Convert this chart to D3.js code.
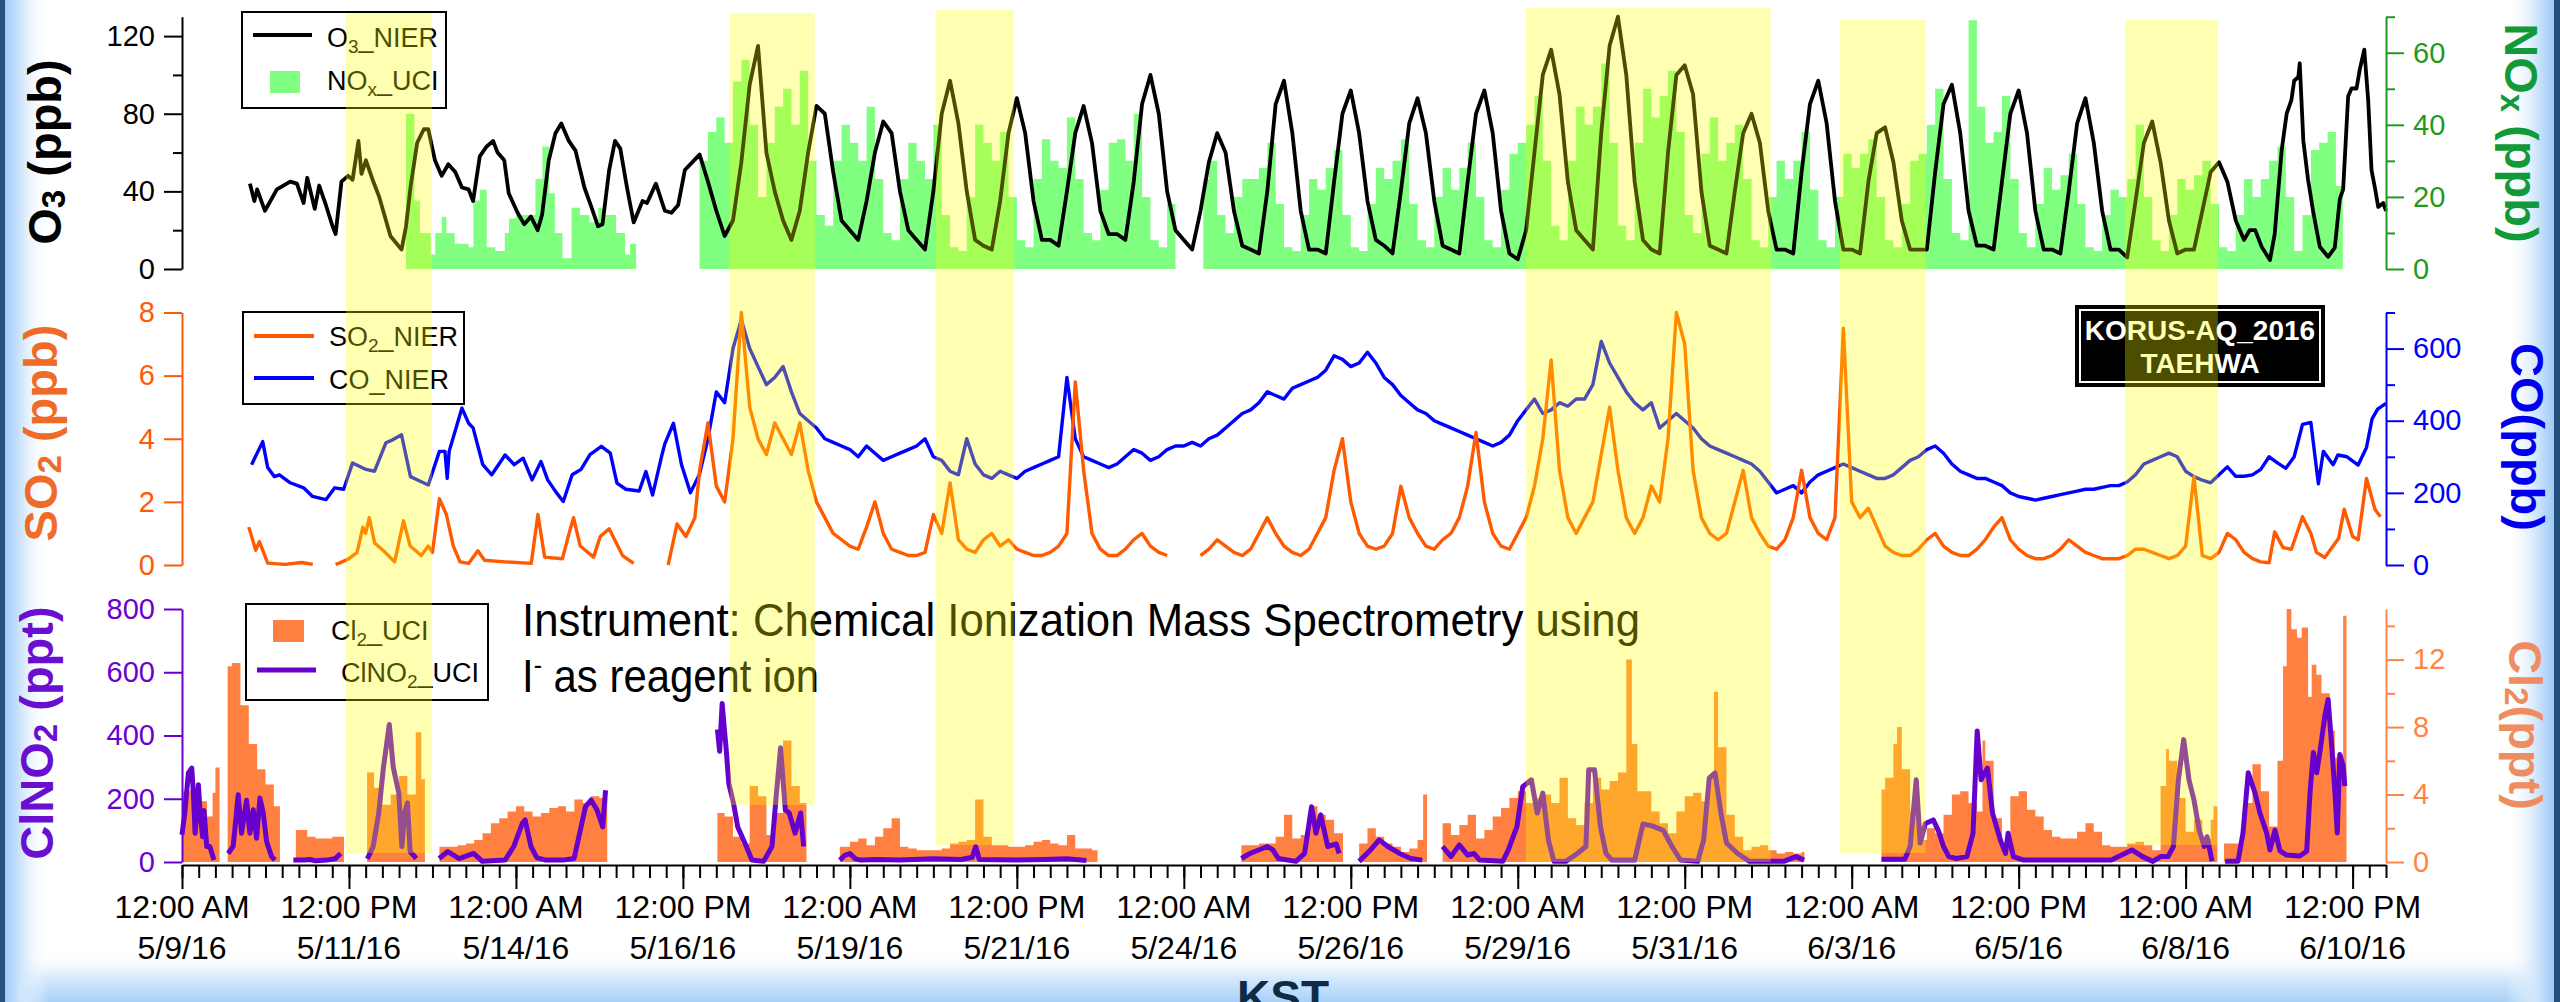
<!DOCTYPE html>
<html>
<head>
<meta charset="utf-8">
<script src="https://cdn.jsdelivr.net/npm/d3@7"></script>
<style>
  html, body { margin: 0; padding: 0; background: #fff; overflow: hidden; }
  svg { display: block; }
  text { font-family: "Liberation Sans", Arial, sans-serif; }
</style>
</head>
<body>
<svg id="chart" width="2560" height="1002"></svg>
<script>
// ---------------------------------------------------------------
// KORUS-AQ 2016, Taehwa site: hourly trace gases, 5/9 - 6/11 2016 (KST)
// Every series is a list of [hours since 5/9/16 00:00, value];
// a null value marks a gap in the record.
// ---------------------------------------------------------------
const START = new Date(2016, 4, 9, 0, 0);
const TOTAL_HOURS = 792;

// O3 (ppb), NIER
const o3 = [
  [24.4,44],[26,35],[27,41],[29.8,30],[34.1,41],[38.9,45],[41.3,44],[43.7,34],[45,47],[47.7,31],
  [49.3,43],[51.7,33],[54.1,22],[55.2,18],[57.3,45],[59.7,48],[61.3,46],[63.4,66],[64.5,49],[66.1,56],
  [68.5,46],[70.9,37],[73.3,25],[74.9,17],[78.9,10],[80.5,22],[82.1,42],[84.5,65],[86.9,72],[88.5,72],
  [90.9,56],[93.3,48],[95.7,54],[98.2,50],[100.6,42],[103,41],[104.6,35],[107,58],[109.4,63],[111.8,66],
  [113.4,60],[115.8,56],[117.4,39],[120.6,29],[123,23],[125.4,27],[127.8,20],[129.4,28],[131.8,56],[134.2,70],
  [136.3,75],[139,66],[141.4,61],[144.6,42],[147.1,32],[149.5,22],[151.1,23],[153.5,51],[155.6,66],[157.5,62],
  [159.9,42],[162.3,24],[165.5,35],[167.1,34],[170.3,44],[173.5,30],[175.9,29],[178.3,33],[180.7,51],[184.7,57],
  [186,59],[189,45],
  [192,30],[195,17],[198,25],[201,55],[204,95],[207,115],[210,60],[213,40],
  [216,25],[219,15],[222,30],[225,60],[228,84],[231,80],[234,50],[237,25],
  [240,20],[243,15],[246,35],[249,60],[252,76],[255,70],[258,40],[261,20],
  [264,15],[267,10],[270,40],[273,80],[276,97],[279,75],[282,40],[285,15],
  [288,12],[291,10],[294,35],[297,70],[300,88],[303,70],[306,35],[309,15],
  [312,15],[315,12],[318,40],[321,70],[324,84],[327,65],[330,30],[333,18],
  [336,18],[339,15],[342,45],[345,85],[348,100],[351,80],[354,40],[357,20],
  [360,15],[363,10],[366,30],[369,55],[372,70],[375,60],[378,30],[381,12],
  [384,10],[387,8],[390,40],[393,85],[396,97],[399,70],[402,30],[405,10],
  [408,10],[411,8],[414,45],[417,80],[420,92],[423,70],[426,35],[429,15],
  [432,12],[435,8],[438,40],[441,75],[444,88],[447,70],[450,35],[453,12],
  [456,10],[459,8],[462,45],[465,80],[468,92],[471,70],[474,30],[477,8],
  [480,5],[483,20],[486,60],[489,100],[492,113],[495,90],[498,45],[501,20],
  [504,15],[507,10],[510,70],[513,115],[516,130],[519,100],[522,45],[525,15],
  [528,10],[531,8],[534,60],[537,100],[540,105],[543,90],[546,40],[549,12],
  [552,10],[555,8],[558,40],[561,70],[564,80],[567,65],[570,30],[573,10],
  [576,10],[579,8],[582,50],[585,85],[588,97],[591,75],[594,35],[597,10],
  [600,10],[603,8],[606,45],[609,70],[612,73],[615,55],[618,25],[621,10],
  [624,10],[627,10],[630,50],[633,85],[636,95],[639,70],[642,30],[645,12],
  [648,12],[651,10],[654,45],[657,80],[660,92],[663,70],[666,30],[669,10],
  [672,10],[675,8],[678,40],[681,75],[684,88],[687,65],[690,30],[693,10],
  [696,10],[699,6],[702,35],[705,65],[708,76],[711,55],[714,25],[717,8],
  [720,10],[723,10],[726,30],[729,50],[732,55],[735,45],[738,25],[741,15],
  [743,20],[745,20],[747.3,11.5],[750.3,4.6],[752,18],[754.5,61],[756.3,80],[758,87],[759,97],[760.5,99],
  [761,106],[762.3,66],[764,46],[765.9,29],[768.2,11.5],[771.2,6.3],[773.6,11],[775.4,36],[776.6,41],[778.4,89],
  [779.6,93],[781.4,93],[782.6,103],[784.2,113],[785.6,87],[786.8,51],[788,42],[789.2,32],[791,34],[792,30]
];

// NOx (ppb), UCI
const nox = [
  [80.5,43],[83.5,19],[85.5,10],[89.4,4],[91,10],[93.4,14.5],[95,10],[98,7],[103,6],[104.7,19],
  [107,22],[109.5,6],[112.6,5],[116,10],[117.5,14],[120,15],[124,15],[127,25],[129.5,34],[131.9,21],
  [134,10],[136.7,3],[140,17],[143,15],[146.4,13],[149.6,17],[152,15],[156,10],[159.2,4],[161,7],[163.2,null],
  [186,30],[189,38],
  [192,42],[195,35],[198,52],[201,58],[204,40],[207,20],[210,35],[213,45],
  [216,50],[219,40],[222,55],[225,30],[228,15],[231,12],[234,30],[237,40],
  [240,35],[243,30],[246,45],[249,25],[252,10],[255,8],[258,25],[261,35],
  [264,30],[267,25],[270,40],[273,15],[276,6],[279,5],[282,20],[285,40],
  [288,35],[291,30],[294,38],[297,20],[300,8],[303,6],[306,25],[309,36],
  [312,30],[315,28],[318,42],[321,25],[324,10],[327,8],[330,22],[333,35],
  [336,36],[339,30],[342,43],[345,20],[348,8],[351,6],[354,18],[357,null],
  [367,25],[369,30],[372,15],[375,10],[378,20],[381,25],
  [384,25],[387,28],[390,35],[393,18],[396,6],[399,5],[402,15],[405,25],
  [408,22],[411,28],[414,33],[417,15],[420,6],[423,5],[426,18],[429,28],
  [432,25],[435,30],[438,36],[441,18],[444,8],[447,6],[450,20],[453,28],
  [456,22],[459,28],[462,35],[465,20],[468,8],[471,6],[474,22],[477,32],
  [480,35],[483,40],[486,48],[489,30],[492,12],[495,8],[498,30],[501,45],
  [504,40],[507,45],[510,57],[513,35],[516,12],[519,8],[522,35],[525,50],
  [528,42],[531,48],[534,55],[537,38],[540,15],[543,10],[546,32],[549,42],
  [552,30],[555,35],[558,40],[561,25],[564,8],[567,6],[570,20],[573,30],
  [576,25],[579,30],[582,38],[585,22],[588,8],[591,6],[594,20],[597,32],
  [600,28],[603,32],[606,36],[609,20],[612,8],[615,6],[618,18],[621,30],
  [624,32],[627,40],[630,50],[633,25],[636,10],[639,8],[642,69],[645,45],
  [648,35],[651,38],[654,48],[657,25],[660,10],[663,6],[666,18],[669,28],
  [672,22],[675,26],[678,32],[681,18],[684,6],[687,5],[690,15],[693,22],
  [696,20],[699,25],[702,40],[705,20],[708,8],[711,5],[714,15],[717,25],
  [720,22],[723,26],[726,30],[729,18],[732,6],[735,5],[738,15],[741,25],
  [744,20],[747,25],[750,30],[753,34],[756,20],[759,5],[762,15],[765,33],
  [768,35],[771,38],[774,23],[776.5,null]
];

// SO2 (ppb), NIER
const so2 = [
  [24,1.2],[26.5,0.47],[27.8,0.74],[30.8,0.06],[37,0.02],[43,0.08],[47,0.02],[47.5,null],
  [55.2,0.02],[56.5,0.06],[60,0.2],[62.9,0.4],[65,1.2],[66,1.0],[67.3,1.5],[69.2,0.7],[72.4,0.45],[76.4,0.1],
  [79.6,1.4],[82,0.6],[86,0.3],[88.5,0.6],[90,0.4],[92.5,2.1],[95,1.6],[97.5,0.6],[99.9,0.1],[103,0.05],
  [106.3,0.45],[108.7,0.15],[115.9,0.1],[125.5,0.05],[127.9,1.6],[130.3,0.25],[136.7,0.2],[139.1,1.0],[140.7,1.5],[143.1,0.6],
  [147.9,0.25],[150.3,0.9],[153.5,1.15],[158.3,0.3],[162.3,0.05],[163.5,null],
  [174.7,0.0],[177.9,1.3],[181.1,0.9],[184.3,1.5],[186,3.0],[189,4.5],
  [192,2.5],[195,2.0],[198,4.0],[201,8.0],[204,5.0],[207,4.0],[210,3.5],[213,4.5],
  [216,4.0],[219,3.5],[222,4.5],[225,3.0],[228,2.0],[231,1.5],[234,1.0],[237,0.8],
  [240,0.6],[243,0.5],[246,1.2],[249,2.0],[252,1.0],[255,0.5],[258,0.4],[261,0.3],
  [264,0.3],[267,0.4],[270,1.6],[273,1.0],[276,2.6],[279,0.8],[282,0.5],[285,0.4],
  [288,0.8],[291,1.0],[294,0.6],[297,0.8],[300,0.5],[303,0.4],[306,0.3],[309,0.3],
  [312,0.4],[315,0.6],[318,1.0],[321,5.8],[324,3.0],[327,1.0],[330,0.5],[333,0.3],
  [336,0.3],[339,0.5],[342,0.8],[345,1.0],[348,0.6],[351,0.4],[354,0.3],[357,null],
  [366,0.3],[369,0.5],[372,0.8],[375,0.6],[378,0.4],[381,0.3],
  [384,0.5],[387,1.0],[390,1.5],[393,1.0],[396,0.6],[399,0.4],[402,0.3],[405,0.5],
  [408,1.0],[411,1.5],[414,3.0],[417,4.0],[420,2.0],[423,1.0],[426,0.6],[429,0.5],
  [432,0.6],[435,1.0],[438,2.5],[441,1.5],[444,1.0],[447,0.6],[450,0.5],[453,0.8],
  [456,1.0],[459,1.5],[462,2.5],[465,4.2],[468,2.0],[471,1.0],[474,0.6],[477,0.5],
  [480,1.0],[483,1.5],[486,2.5],[489,4.0],[492,6.5],[495,3.0],[498,1.5],[501,1.0],
  [504,1.5],[507,2.0],[510,3.5],[513,5.0],[516,3.0],[519,1.5],[522,1.0],[525,1.5],
  [528,2.5],[531,2.0],[534,4.0],[537,8.0],[540,7.0],[543,3.0],[546,1.5],[549,1.0],
  [552,0.8],[555,1.0],[558,2.0],[561,3.0],[564,1.5],[567,1.0],[570,0.6],[573,0.5],
  [576,0.8],[579,1.5],[582,3.0],[585,1.5],[588,1.0],[591,0.8],[594,1.5],[597,7.5],
  [600,2.0],[603,1.5],[606,1.8],[609,1.2],[612,0.6],[615,0.4],[618,0.3],[621,0.3],
  [624,0.5],[627,0.8],[630,1.0],[633,0.6],[636,0.4],[639,0.3],[642,0.3],[645,0.5],
  [648,0.8],[651,1.2],[654,1.5],[657,0.8],[660,0.5],[663,0.3],[666,0.2],[669,0.2],
  [672,0.3],[675,0.5],[678,0.8],[681,0.6],[684,0.4],[687,0.3],[690,0.2],[693,0.2],
  [696,0.2],[699,0.3],[702,0.5],[705,0.5],[708,0.4],[711,0.3],[714,0.2],[717,0.3],
  [720,0.6],[723,2.8],[726,0.3],[729,0.2],[732,0.4],[735,1.0],[738,0.8],[741,0.4],
  [744,0.2],[747,0.1],[750,0.07],[752,1.05],[755,0.55],[758,0.5],[762,1.53],[765,1.0],
  [767,0.4],[770,0.24],[775,0.85],[777,1.77],[780,0.9],[782,0.8],[785,2.74],[788,1.77],[790,1.53]
];

// CO (ppb), NIER
const co = [
  [25,278],[29,342],[30.8,270],[33.2,245],[35,250],[38.9,228],[43.7,214],[46.9,190],[51.7,181],[54.9,214],
  [58.1,210],[61.3,283],[66.1,265],[69.2,260],[73.3,339],[75.7,347],[78.9,361],[82.1,245],[86,231],[88.5,222],
  [92.5,315],[94.5,315],[95.3,240],[96,315],[100.6,435],[103,393],[104.6,380],[108.1,278],[111.3,250],[116.1,305],
  [119.4,278],[122.6,296],[125.8,236],[129,287],[131.4,236],[134.6,200],[137,176],[140.2,250],[143.4,265],[146.6,306],
  [150.7,329],[153.9,310],[156.3,227],[159.5,210],[164.3,205],[166.7,259],[169.1,194],[172.3,300],[173.5,336],[176.6,393],
  [179.5,278],[182.7,200],[185.9,250],[189,350],
  [192,480],[195,450],[198,600],[201,680],[204,600],[207,550],[210,500],[213,520],
  [216,550],[219,480],[222,420],[225,400],[228,380],[231,350],[234,340],[237,330],
  [240,320],[243,300],[246,330],[249,310],[252,290],[255,300],[258,310],[261,320],
  [264,330],[267,350],[270,300],[273,290],[276,260],[279,250],[282,350],[285,280],
  [288,250],[291,240],[294,260],[297,250],[300,240],[303,260],[306,270],[309,280],
  [312,290],[315,300],[318,520],[321,350],[324,300],[327,290],[330,280],[333,270],
  [336,280],[339,300],[342,320],[345,310],[348,290],[351,300],[354,320],[357,330],
  [360,330],[363,340],[366,330],[369,350],[372,360],[375,380],[378,400],[381,420],
  [384,430],[387,450],[390,480],[393,470],[396,460],[399,490],[402,500],[405,510],
  [408,520],[411,540],[414,580],[417,570],[420,550],[423,560],[426,590],[429,560],
  [432,520],[435,500],[438,470],[441,450],[444,430],[447,420],[450,400],[453,390],
  [456,380],[459,370],[462,360],[465,350],[468,340],[471,330],[474,340],[477,360],
  [480,400],[483,430],[486,460],[489,420],[492,430],[495,450],[498,440],[501,460],
  [504,460],[507,500],[510,620],[513,560],[516,520],[519,480],[522,450],[525,430],
  [528,450],[531,380],[534,400],[537,420],[540,400],[543,380],[546,350],[549,330],
  [552,320],[555,310],[558,300],[561,290],[564,280],[567,260],[570,230],[573,200],
  [576,210],[579,220],[582,200],[585,230],[588,250],[591,260],[594,270],[597,280],
  [600,270],[603,260],[606,250],[609,240],[612,240],[615,250],[618,270],[621,290],
  [624,300],[627,320],[630,330],[633,310],[636,280],[639,260],[642,250],[645,240],
  [648,240],[651,230],[654,220],[657,200],[660,190],[663,185],[666,180],[669,185],
  [672,190],[675,195],[678,200],[681,205],[684,210],[687,210],[690,215],[693,220],
  [696,220],[699,230],[702,250],[705,280],[708,290],[711,300],[714,310],[717,300],
  [720,260],[723,245],[726,235],[729,228],[732,250],[735,272],[738,246],[741,246],
  [744,250],[747,265],[750,300],[753,283],[756,268],[759,300],[762,390],[765,395],
  [767.7,225],[769.5,315],[773,278],[774.7,305],[778,300],[782,277],[785,326],[787,405],[789,432],[792,448]
];

// Cl2 (ppt), UCI CIMS
const cl2 = [
  [0,4.2],[3,4.3],[6,3.6],[9,2.7],[11,4.1],[12,5.6],[13.5,null],
  [16.4,11.6],[18,11.8],[21,9.3],[24,7.0],[27,5.5],[30,4.6],[33,3.3],[35.2,null],
  [40.9,1.9],[42,1.9],[45,1.5],[48,1.4],[51,1.4],[54,1.5],[57,1.5],[58.2,null],
  [66.5,5.3],[69,4.4],[72,3.4],[75,4.0],[78,5.1],[81,4.0],[84,7.7],[86,4.9],[87.3,null],
  [92.5,0.9],[96,0.9],[99,1.0],[102,1.1],[105,1.3],[108,1.7],[111,2.3],[114,2.6],[117,3.0],[120,3.3],
  [123,3.0],[126,2.7],[129,2.9],[132,3.2],[135,3.3],[138,3.0],[141,3.7],[144,3.5],[147,3.9],[150,3.8],[152.8,null],
  [192.4,2.9],[195,2.7],[198,1.5],[201,1.1],[204,4.5],[207,3.9],[210,1.6],[213,2.9],[216,7.2],[219,4.5],[222,3.5],[224.4,null],
  [236.4,0.9],[240,1.2],[243,1.4],[246,1.0],[249,1.5],[252,2.0],[255,2.6],[258,0.9],[261,0.8],[264,0.7],
  [267,0.7],[270,0.7],[273,0.8],[276,1.1],[279,1.2],[282,1.3],[285,3.7],[288,1.5],[291,1.0],[294,1.0],
  [297,0.9],[300,0.9],[303,1.0],[306,1.2],[309,1.3],[312,1.1],[315,1.0],[318,1.6],[321,0.8],[324,0.8],[327,0.7],[329,null],
  [380.7,1.0],[384,1.0],[387,1.1],[390,1.1],[393,1.5],[396,2.8],[399,1.4],[402,1.6],[405,3.3],[408,2.8],[411,2.5],[414,1.7],[417.2,null],
  [423,1.1],[426,2.0],[429,1.5],[432,1.1],[435,0.9],[438,0.6],[441,0.8],[444,1.3],[446,4.0],[447.4,null],
  [453,2.3],[456,1.6],[459,2.2],[462,2.8],[465,1.4],[468,1.9],[471,2.7],[474,3.2],[477,3.8],[480,4.2],
  [483,3.5],[486,3.8],[489,4.0],[492,3.5],[495,5.0],[498,2.6],[501,2.2],[504,3.5],[507,5.0],[510,4.3],
  [513,4.8],[516,5.3],[519,12.0],[521,7.0],[523,4.2],[528,3.0],[531,2.3],[534,1.7],[537,3.0],[540,3.9],
  [543,4.1],[546,3.6],[549,5.0],[550.5,10.1],[552,6.8],[555,2.8],[558,1.5],[561,0.7],[564,0.9],[567,1.0],
  [570,0.7],[573,0.5],[576,0.6],[579,0.5],[582,0.6],[583,null],
  [610.7,4.3],[612,5.0],[615,7.0],[616.3,8.0],[618,5.5],[621,3.0],[624,1.3],[627,2.0],[630,1.7],[633,2.8],
  [636,4.0],[639,4.2],[642,3.5],[645,3.0],[647,7.2],[648,6.0],[651,2.6],[654,1.0],[657,3.9],[660,4.2],
  [663,3.1],[666,2.7],[669,1.9],[672,1.5],[675,1.4],[678,1.4],[681,1.8],[684,2.3],[687,1.8],[690,1.0],
  [693,0.9],[696,0.9],[699,1.1],[702,1.2],[705,1.0],[708,0.7],[711,4.5],[713,6.7],[714,6.0],[717,3.8],
  [720,1.8],[723,2.5],[726,1.4],[729,2.5],[730,3.3],[731.4,null],
  [733.8,1.1],[738,1.1],[741,3.5],[744,5.8],[747,4.2],[750,2.1],[753,6.0],[755,11.6],[756.3,15.0],[758,13.8],
  [760,13.3],[761.7,13.9],[764,9.8],[765.3,11.7],[767,11.1],[768.8,10.0],[771.8,7.8],[773.6,6.2],[775.4,6.0],[776.6,14.6],[777.8,null]
];

// ClNO2 (ppt), UCI CIMS
const clno2 = [
  [0,86],[1,155],[2.3,282],[3.5,297],[4.1,218],[4.7,91],[5.9,244],[6.5,155],[7.4,80],[7.9,163],[8.9,49],[10,49],[11.5,6],[12,null],
  [16.6,27],[18.4,50],[20.2,213],[21.4,91],[23.2,195],[24.4,91],[25.6,165],[26.8,75],[28,202],[29.2,155],[30.4,65],[32.2,17],[33.4,6],[34,null],
  [40,6],[44,6],[46,8],[48,4],[52,6],[55,10],[57,27],[58,null],
  [66.6,10],[68.7,49],[70.7,155],[72.4,300],[74.5,435],[75.9,300],[77.9,218],[79,49],[80,155],[81,187],[82,33],[84.2,11],[86,null],
  [92.4,11],[95.5,33],[99.6,11],[104.8,27],[107.9,2],[116.1,6],[119.2,49],[122.3,122],[123.3,133],[125.4,49],
  [127.5,14],[130.6,6],[136.8,6],[140.9,11],[142.9,91],[145,175],[147,196],[149.1,165],[151.2,111],[152.2,227],[153,null],
  [192.4,419],[193.2,350],[194.1,501],[194.9,419],[195.5,362],[196.5,248],[198.2,185],[199.7,111],[200.7,91],[202.8,49],
  [204.8,6],[209,2],[212,49],[213.5,206],[215.1,361],[216.8,165],[218.2,155],[220.3,91],[222.3,155],[223.4,49],[224,null],
  [236.4,6],[238,20],[240,27],[242,10],[244,6],[250,8],[258,6],[270,10],[280,8],[284,15],[285.2,49],[286.5,8],[300,6],[310,8],[318,10],[325,5],[329,null],
  [380.7,11],[383.8,27],[390,49],[392,38],[394,11],[400.3,2],[403.4,27],[405.9,175],[407.5,91],[409.2,149],[411.7,49],[414.8,57],[415.8,27],[417,null],
  [423,2],[427.1,38],[430.2,70],[433.3,49],[437.5,27],[441.6,11],[445.7,6],[447,null],
  [453,49],[456,17],[459,54],[462,22],[464.3,27],[466.3,6],[474.6,2],[476.6,38],[479.7,112],[481.8,238],
  [484.9,260],[487,155],[489,218],[491,70],[493,2],[497.3,2],[501.4,27],[504.5,49],[505.5,292],[507.6,292],
  [509.7,112],[511.7,27],[513.8,6],[522,6],[525,120],[528,115],[532.3,100],[535.4,49],[538.5,6],[544.7,2],
  [546.8,70],[548.8,265],[550.9,282],[553,155],[555,60],[559,27],[563.3,2],[575.6,2],[580,17],[582.9,6],[583,null],
  [610.7,9],[619.1,9],[621,49],[623.2,260],[624.6,60],[626.5,122],[629.3,133],[631.1,100],[633,49],[634.9,17],
  [637.6,11],[641.4,17],[643.6,91],[645.1,414],[646.5,260],[648.8,297],[650.6,155],[653.4,70],[655.3,27],[656.2,91],
  [658.1,17],[661.8,6],[693.3,6],[697,22],[700.7,38],[704.5,17],[708.2,2],[711,17],[713.7,17],[715.6,49],
  [717.4,260],[719.3,387],[721.2,260],[723,196],[724.9,100],[726.7,49],[727.7,80],[729.5,2],[730,null],
  [734.2,2],[738.8,2],[740.6,91],[742.5,282],[744.9,219],[746.7,155],[749.1,92],[750.3,38],[752.1,101],[753.9,35],
  [756.3,22],[761,19],[763.5,34],[764.7,219],[765.9,346],[767.1,282],[768.3,350],[770,461],[771.2,514],[772.4,377],
  [773.6,227],[774.5,92],[775.4,340],[776.6,305],[777.2,240],[777.5,null]
];

// Highlighted periods [from hour, to hour]
const highlightSpans = [[58.9, 89.8], [196.9, 227.4], [270.9, 298.9], [482.9, 570.9], [595.7, 626.6], [698.2, 731.6]];

// Axis ticks
const o3Ticks = [0, 40, 80, 120],        o3Minor = [20, 60, 100];
const noxTicks = [0, 20, 40, 60],        noxMinor = [10, 30, 50, 70];
const so2Ticks = [0, 2, 4, 6, 8];
const coTicks = [0, 200, 400, 600],      coMinor = [100, 300, 500, 700];
const clno2Ticks = [0, 200, 400, 600, 800];
const cl2Ticks = [0, 4, 8, 12],          cl2Minor = [2, 6, 10, 14];
const timeTickHours = d3.range(0, TOTAL_HOURS + 1, 60);   // labelled every 2.5 days
const timeMinorHours = d3.range(0, TOTAL_HOURS + 1, 6);

// ---------------------------------------------------------------
const svg = d3.select("#chart");
const FONT = '"Liberation Sans", Arial, sans-serif';
const hd = h => new Date(START.getTime() + h * 3600e3);

// layout
const X0 = 182, X1 = 2386;
const P = {
  top:    { y0: 269, y1: 16.7 },
  mid:    { y0: 565, y1: 312.5 },
  bottom: { y0: 862, y1: 609 }
};
const AXIS_Y = 865;

const x = d3.scaleTime().domain([hd(0), hd(TOTAL_HOURS)]).range([X0, X1]);
const yO3 = d3.scaleLinear([0, 130], [P.top.y0, P.top.y1]);
const yNOx = d3.scaleLinear([0, 70], [P.top.y0, P.top.y1]);
const ySO2 = d3.scaleLinear([0, 8], [P.mid.y0, P.mid.y1]);
const yCO = d3.scaleLinear([0, 700], [P.mid.y0, P.mid.y1]);
const yClNO2 = d3.scaleLinear([0, 800], [P.bottom.y0, P.bottom.y1]);
const yCl2 = d3.scaleLinear([0, 15], [P.bottom.y0, P.bottom.y1]);

// ---------- slide background ----------
const defs = svg.append("defs");
function grad(id, x1, y1, x2, y2, stops) {
  const g = defs.append("linearGradient").attr("id", id)
    .attr("x1", x1).attr("y1", y1).attr("x2", x2).attr("y2", y2);
  stops.forEach(s => g.append("stop").attr("offset", s[0]).attr("stop-color", s[1]).attr("stop-opacity", s[2]));
}
grad("edgeL", 0, 0, 1, 0, [[0, "#9ccaf7", 1], [0.35, "#cfe5fb", 1], [1, "#ffffff", 0]]);
grad("edgeR", 0, 0, 1, 0, [[0, "#ffffff", 0], [0.65, "#cfe5fb", 1], [1, "#9ccaf7", 1]]);
grad("edgeB", 0, 0, 0, 1, [[0, "#ffffff", 0], [0.5, "#d7eafc", 1], [1, "#a9d1f8", 1]]);

svg.append("rect").attr("width", 2560).attr("height", 1002).attr("fill", "#fff");
svg.append("rect").attr("x", 0).attr("y", 952).attr("width", 2560).attr("height", 50).attr("fill", "url(#edgeB)");
svg.append("rect").attr("x", 5).attr("y", 0).attr("width", 44).attr("height", 1002).attr("fill", "url(#edgeL)");
svg.append("rect").attr("x", 2506).attr("y", 0).attr("width", 48).attr("height", 1002).attr("fill", "url(#edgeR)");
svg.append("rect").attr("x", 0).attr("y", 0).attr("width", 5).attr("height", 1002).attr("fill", "#24507b");
svg.append("rect").attr("x", 2554).attr("y", 0).attr("width", 6).attr("height", 1002).attr("fill", "#24507b");

// ---------- data marks ----------
// step bars: each value spans until the next timestamp
function stepArea(data, y) {
  const pts = [];
  data.forEach((d, i) => {
    if (d[1] == null && i > 0 && data[i - 1][1] != null) pts.push([d[0], data[i - 1][1]]);
    pts.push(d);
  });
  return d3.area().defined(d => d[1] != null).curve(d3.curveStepAfter)
    .x(d => x(hd(d[0]))).y0(y(0)).y1(d => y(d[1]))(pts);
}
function linePath(data, y) {
  return d3.line().defined(d => d[1] != null)
    .x(d => x(hd(d[0]))).y(d => y(d[1]))(data);
}

const marks = svg.append("g");
marks.append("path").attr("d", stepArea(nox, yNOx)).attr("fill", "#80ff80");
marks.append("path").attr("d", linePath(o3, yO3)).attr("fill", "none")
  .attr("stroke", "#000").attr("stroke-width", 3.8).attr("stroke-linejoin", "round");

marks.append("path").attr("d", linePath(co, yCO)).attr("fill", "none")
  .attr("stroke", "#0000ff").attr("stroke-width", 3.4).attr("stroke-linejoin", "round");
marks.append("path").attr("d", linePath(so2, ySO2)).attr("fill", "none")
  .attr("stroke", "#ff5a00").attr("stroke-width", 3.4).attr("stroke-linejoin", "round");

marks.append("path").attr("d", stepArea(cl2, yCl2)).attr("fill", "#ff8040");
marks.append("path").attr("d", linePath(clno2, yClNO2)).attr("fill", "none")
  .attr("stroke", "#6600cc").attr("stroke-width", 5).attr("stroke-linejoin", "round");

// ---------- axes ----------
function styleAxis(g, color, fontSize) {
  g.selectAll(".domain").attr("stroke", color).attr("stroke-width", 2);
  g.selectAll(".tick line").attr("stroke", color).attr("stroke-width", 2);
  g.selectAll(".tick text").attr("fill", color).attr("font-size", fontSize).attr("font-family", FONT);
}
function valueAxis(side, scale, majors, minors, color, xPos) {
  const maker = side === "left" ? d3.axisLeft : d3.axisRight;
  const g = svg.append("g").attr("transform", `translate(${xPos},0)`);
  g.call(maker(scale).tickValues(majors).tickSize(18).tickSizeOuter(0).tickPadding(9).tickFormat(d3.format("d")));
  styleAxis(g, color, 29);
  if (minors) {
    const m = svg.append("g").attr("transform", `translate(${xPos},0)`);
    m.call(maker(scale).tickValues(minors).tickSize(9).tickFormat(""));
    m.select(".domain").remove();
    styleAxis(m, color, 29);
  }
}
valueAxis("left", yO3, o3Ticks, o3Minor, "#000", X0);
valueAxis("right", yNOx, noxTicks, noxMinor, "#1f9a1f", X1);
valueAxis("left", ySO2, so2Ticks, null, "#ff5a0a", X0);
valueAxis("right", yCO, coTicks, coMinor, "#0000ff", X1);
valueAxis("left", yClNO2, clno2Ticks, null, "#6a00d0", X0);
valueAxis("right", yCl2, cl2Ticks, cl2Minor, "#ff8447", X1);

// time axis
const tMajor = svg.append("g").attr("transform", `translate(0,${AXIS_Y})`)
  .call(d3.axisBottom(x).tickValues(timeTickHours.map(hd)).tickSize(24).tickSizeOuter(0).tickFormat(""));
styleAxis(tMajor, "#000", 30);
const tMinor = svg.append("g").attr("transform", `translate(0,${AXIS_Y})`)
  .call(d3.axisBottom(x).tickValues(timeMinorHours.map(hd)).tickSize(13).tickFormat(""));
tMinor.select(".domain").remove();
styleAxis(tMinor, "#000", 30);

const fmtTime = d3.timeFormat("%I:%M %p"), fmtDate = d3.timeFormat("%-m/%-d/%y");
const tl = svg.append("g").attr("font-family", FONT).attr("font-size", 32).attr("fill", "#000").attr("text-anchor", "middle");
timeTickHours.forEach(h => {
  const t = tl.append("text").attr("x", x(hd(h)));
  t.append("tspan").attr("x", x(hd(h))).attr("y", 918).text(fmtTime(hd(h)));
  t.append("tspan").attr("x", x(hd(h))).attr("y", 959).text(fmtDate(hd(h)));
});

// ---------- axis titles ----------
function title(parts, cx, cy, rot, color) {
  const t = svg.append("text").attr("transform", `translate(${cx},${cy}) rotate(${rot})`)
    .attr("text-anchor", "middle").attr("dominant-baseline", "central")
    .attr("font-family", FONT).attr("font-weight", "bold").attr("font-size", 47).attr("fill", color);
  parts.forEach(p => {
    const s = t.append("tspan").text(p[0]);
    if (p[1] === "sub") s.attr("font-size", 33).attr("dy", 9);
    if (p[1] === "up") s.attr("dy", -9);
  });
}
title([["O"], ["3", "sub"], [" (ppb)", "up"]], 44, 152, -90, "#000");
title([["SO"], ["2", "sub"], [" (ppb)", "up"]], 40, 433, -90, "#ef6b2a");
title([["ClNO"], ["2", "sub"], [" (ppt)", "up"]], 36, 733, -90, "#6a0fd0");
title([["NO"], ["x", "sub"], [" (ppb)", "up"]], 2522, 133, 90, "#129a3a");
title([["CO(ppb)"]], 2528, 437, 90, "#0000ee");
title([["Cl"], ["2", "sub"], ["(ppt)", "up"]], 2526, 725, 90, "#ee8d60");

// ---------- legends ----------
function legendBox(x0, y0, x1, y1) {
  svg.append("rect").attr("x", x0).attr("y", y0).attr("width", x1 - x0).attr("height", y1 - y0)
    .attr("fill", "#fff").attr("stroke", "#000").attr("stroke-width", 2);
}
function legendText(parts, lx, ly) {
  const t = svg.append("text").attr("x", lx).attr("y", ly)
    .attr("font-family", FONT).attr("font-size", 27).attr("fill", "#000");
  parts.forEach(p => {
    const s = t.append("tspan").text(p[0]);
    if (p[1] === "sub") s.attr("font-size", 19).attr("dy", 6);
    if (p[1] === "up") s.attr("dy", -6);
  });
}
legendBox(242, 12, 446, 108);
svg.append("line").attr("x1", 253).attr("x2", 312).attr("y1", 35).attr("y2", 35).attr("stroke", "#000").attr("stroke-width", 4);
legendText([["O"], ["3", "sub"], ["_NIER", "up"]], 327, 47);
svg.append("rect").attr("x", 270).attr("y", 71).attr("width", 30).attr("height", 22).attr("fill", "#80ff80");
legendText([["NO"], ["x", "sub"], ["_UCI", "up"]], 327, 90);

legendBox(243, 312, 464, 404);
svg.append("line").attr("x1", 254).attr("x2", 314).attr("y1", 336).attr("y2", 336).attr("stroke", "#ff5a00").attr("stroke-width", 4);
legendText([["SO"], ["2", "sub"], ["_NIER", "up"]], 329, 346);
svg.append("line").attr("x1", 254).attr("x2", 314).attr("y1", 378).attr("y2", 378).attr("stroke", "#0000ff").attr("stroke-width", 4);
legendText([["CO_NIER"]], 329, 389);

legendBox(246, 604, 488, 700);
svg.append("rect").attr("x", 273).attr("y", 620).attr("width", 31).attr("height", 22).attr("fill", "#ff8040");
legendText([["Cl"], ["2", "sub"], ["_UCI", "up"]], 331, 640);
svg.append("line").attr("x1", 257).attr("x2", 316).attr("y1", 670).attr("y2", 670).attr("stroke", "#6600cc").attr("stroke-width", 5);
legendText([["ClNO"], ["2", "sub"], ["_UCI", "up"]], 341, 682);

// ---------- notes ----------
const note = svg.append("g").attr("font-family", "Lato, 'Open Sans', sans-serif").attr("font-size", 47).attr("fill", "#000");
note.append("text").attr("x", 522).attr("y", 636)
  .attr("textLength", 1118).attr("lengthAdjust", "spacingAndGlyphs")
  .text("Instrument: Chemical Ionization Mass Spectrometry using");
const n2 = note.append("text").attr("x", 522).attr("y", 692)
  .attr("textLength", 297).attr("lengthAdjust", "spacingAndGlyphs");
n2.append("tspan").text("I");
n2.append("tspan").attr("font-size", 28).attr("dy", -18).text("-");
n2.append("tspan").attr("dy", 18).text(" as reagent ion");

// site label
svg.append("rect").attr("x", 2076).attr("y", 306).attr("width", 248).attr("height", 80)
  .attr("fill", "#000").attr("stroke", "#000").attr("stroke-width", 2);
svg.append("rect").attr("x", 2080).attr("y", 310).attr("width", 240).attr("height", 72)
  .attr("fill", "none").attr("stroke", "#fff").attr("stroke-width", 2);
const site = svg.append("g").attr("font-family", FONT).attr("font-weight", "bold").attr("font-size", 28)
  .attr("fill", "#fff").attr("text-anchor", "middle");
site.append("text").attr("x", 2200).attr("y", 340).text("KORUS-AQ_2016");
site.append("text").attr("x", 2200).attr("y", 373).text("TAEHWA");

// ---------- highlighted periods (translucent overlay) ----------
const highlightEdges = [[13, 853], [13, 805], [10, 845], [8, 862], [20, 853], [20, 845]];
svg.append("g").selectAll("rect").data(highlightSpans).join("rect")
  .attr("x", d => x(hd(d[0])))
  .attr("width", d => x(hd(d[1])) - x(hd(d[0])))
  .attr("y", (d, i) => highlightEdges[i][0])
  .attr("height", (d, i) => highlightEdges[i][1] - highlightEdges[i][0])
  .attr("fill", "#ffff00").attr("fill-opacity", 0.3);

// time axis title
svg.append("text").attr("x", 1283).attr("y", 1013).attr("text-anchor", "middle")
  .attr("font-family", FONT).attr("font-weight", "bold").attr("font-size", 46).attr("fill", "#0f2a45")
  .text("KST");
</script>
</body>
</html>
